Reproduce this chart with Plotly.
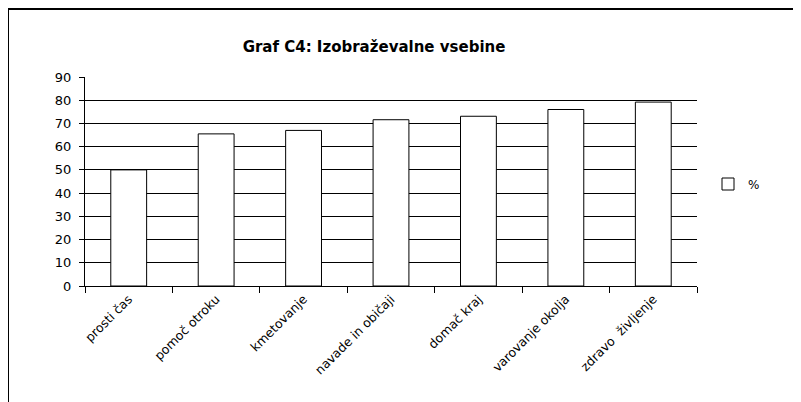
import plotly.graph_objects as go

categories = ["prosti čas", "pomoč otroku", "kmetovanje", "navade in običaji",
              "domač kraj", "varovanje okolja", "zdravo  življenje"]
values = [50, 65.5, 67, 71.6, 73.1, 76, 79.2]
series_name = "%"
title_text = "<b>Graf C4: Izobraževalne vsebine</b>"

# page body has an 8px margin, so targets are shifted by -8
OFF = 8
W, H = 801, 402
L, T = 85 - OFF, 77 - OFF
pw, ph = 612, 209
R = W - L - pw
B = H - T - ph

def px_x(x):
    return (x - OFF - L) / pw

def px_y(y):
    return (T + ph - (y - OFF)) / ph

FONT = "DejaVu Sans, Liberation Sans, Arial, sans-serif"

fig = go.Figure()
fig.add_trace(go.Bar(
    x=categories, y=values, name=series_name,
    marker=dict(color="white", line=dict(color="black", width=1)),
    showlegend=True,
))

fig.update_layout(
    width=W, height=H,
    margin=dict(l=L, r=R, t=T, b=B, autoexpand=False),
    paper_bgcolor="white", plot_bgcolor="white",
    font=dict(family=FONT, color="black", size=12),
    title=dict(text=title_text, x=(374 - OFF) / W, xanchor="center",
               y=1 - (47 - OFF) / H, yanchor="middle",
               font=dict(size=15, family=FONT)),
    bargap=0.59,
    showlegend=True,
    legend=dict(x=px_x(708), y=px_y(184), xanchor="left", yanchor="middle",
                font=dict(size=12, family=FONT), bgcolor="rgba(0,0,0,0)",
                itemwidth=30),
    xaxis=dict(
        type="category", showline=True, linecolor="black", linewidth=1,
        ticks="outside", tickson="boundaries", ticklen=6, tickcolor="black",
        tickangle=-45, tickfont=dict(size=12.5, family=FONT), showgrid=False,
    ),
    yaxis=dict(
        range=[0, 90], dtick=10, showline=True, linecolor="black", linewidth=1,
        ticks="outside", ticklen=5, tickcolor="black", showgrid=True,
        gridcolor="black", gridwidth=1, zeroline=False,
        tickfont=dict(size=13, family=FONT), ticklabelstandoff=5,
    ),
    shapes=[
        dict(type="line", xref="paper", yref="paper",
             x0=px_x(8), x1=px_x(801), y0=px_y(9), y1=px_y(9),
             line=dict(color="black", width=2)),
        dict(type="line", xref="paper", yref="paper",
             x0=px_x(8), x1=px_x(8), y0=px_y(9), y1=px_y(402),
             line=dict(color="black", width=2)),
    ],
)

fig.write_html("out.html")
